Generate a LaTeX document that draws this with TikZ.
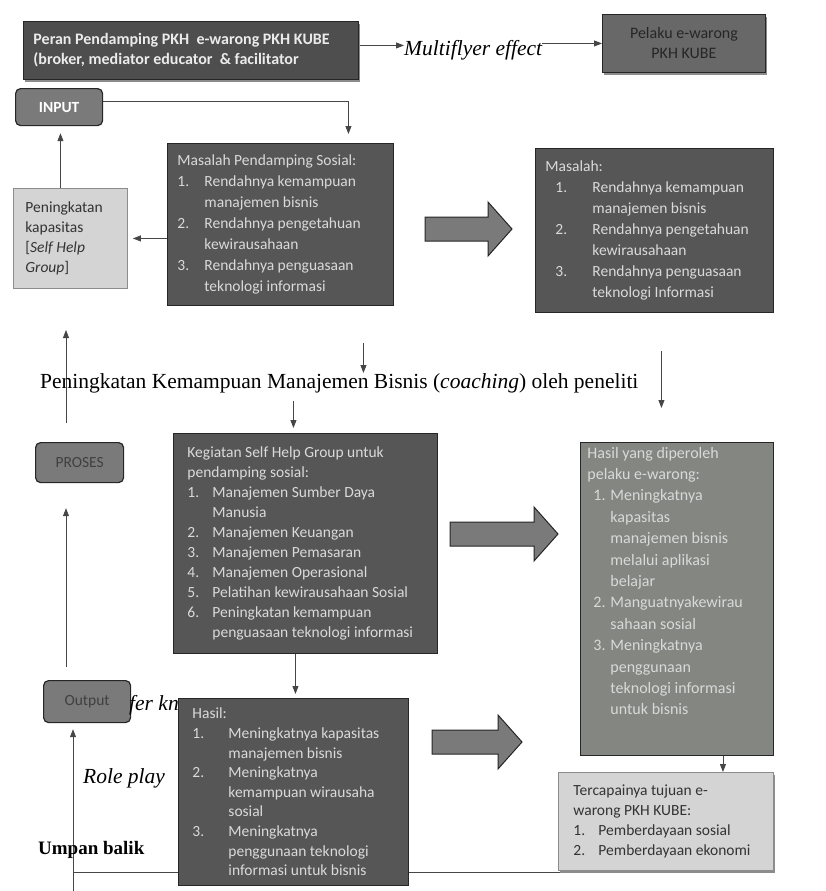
\documentclass[tikz,border=0pt]{standalone}
\usepackage{fontspec}
\setmainfont{Carlito}
\newfontfamily\serifont{Liberation Serif}
\usetikzlibrary{arrows.meta,shadows,backgrounds}

\definecolor{boxdark}{RGB}{86,86,86}
\definecolor{boxtext}{RGB}{218,218,218}
\definecolor{peranfill}{RGB}{78,78,78}
\definecolor{pelakufill}{RGB}{104,104,104}
\definecolor{hasilfill}{RGB}{132,134,130}
\definecolor{tagfill}{RGB}{122,122,122}
\definecolor{lightfill}{RGB}{212,212,212}
\definecolor{linegray}{RGB}{70,70,70}

\newcommand{\boxsize}{\fontsize{15.5}{21}\selectfont}
\newlength{\nrw}
\newlength{\nro}
\newcommand{\nr}[1]{\hspace*{\nro}\makebox[\nrw][l]{#1.}}
\newcommand{\nx}{\hspace*{\dimexpr\nro+\nrw\relax}}
\newcommand{\fatarrow}[3]{%
  \draw[fatarrow] (#1,#3-12) -- (#2-24,#3-12) -- (#2-24,#3-27) -- (#2,#3)
    -- (#2-24,#3+27) -- (#2-24,#3+12) -- (#1,#3+12) -- cycle;}

\begin{document}
\begin{tikzpicture}[x=1pt, y=-1pt,
    panel/.style={draw=black!85, line width=0.9pt, font=\boxsize, align=flush left,
      anchor=north west, inner xsep=10pt, inner ysep=0pt},
    darkbox/.style={panel, fill=boxdark, text=boxtext},
    lightbox/.style={panel, draw=black!45, fill=lightfill, text=black!80},
    tag/.style={draw=black!85, line width=1.2pt, rounded corners=5pt, fill=tagfill,
      anchor=north west, inner sep=0pt, font=\fontsize{15.5}{18}\selectfont},
    serif/.style={inner sep=0pt, font=\serifont\fontsize{21.5}{24}\selectfont},
    arr/.style={draw=linegray, line width=0.8pt, -{Triangle[length=8pt,width=6pt]}},
    link/.style={draw=linegray, line width=0.8pt},
    fatarrow/.style={draw=black!85, line width=1pt, fill=black!52},
    boxshadow/.style={drop shadow={shadow xshift=1.5pt, shadow yshift=-3pt, fill=black!45, opacity=1}}
  ]
\useasboundingbox (0,0) rectangle (825,891);

% top row
\node[panel, boxshadow, fill=peranfill, text=white!92!black,
  font=\bfseries\fontsize{16}{20}\selectfont, text width=315pt, minimum height=58pt]
  (peran) at (23,21)
  {Peran Pendamping PKH\ \ e-warong PKH KUBE\\(broker, mediator educator\ \ \& facilitator};
\node[serif, anchor=west] (multi) at (404,50) {\itshape Multiflyer effect};
\node[panel, boxshadow, fill=pelakufill, text=black!85, align=flush center,
  font=\fontsize{16}{20}\selectfont, text width=143pt, minimum height=58pt]
  (pelaku) at (602,14) {Pelaku e-warong\\PKH KUBE};
\node[tag, text=white, font=\bfseries\fontsize{15.5}{18}\selectfont,
  minimum width=87pt, minimum height=37pt] (input) at (15,88) {INPUT};

% problems
\node[darkbox, text width=206pt, minimum height=162pt] (masPS) at (167,143)
  {\setlength{\nrw}{27pt}Masalah Pendamping Sosial:\\
   \nr{1}Rendahnya kemampuan\\\nx manajemen bisnis\\
   \nr{2}Rendahnya pengetahuan\\\nx kewirausahaan\\
   \nr{3}Rendahnya penguasaan\\\nx teknologi informasi};
\node[lightbox, text width=90pt, inner xsep=12pt, minimum height=100pt,
  font=\fontsize{15.5}{20}\selectfont] (penkap) at (13,188)
  {Peningkatan\\kapasitas\\{[}\textit{Self Help}\\\textit{Group}]};
\node[darkbox, text width=218pt, minimum height=164pt] (masalah) at (535,148)
  {\setlength{\nro}{10pt}\setlength{\nrw}{37pt}Masalah:\\
   \nr{1}Rendahnya kemampuan\\\nx manajemen bisnis\\
   \nr{2}Rendahnya pengetahuan\\\nx kewirausahaan\\
   \nr{3}Rendahnya penguasaan\\\nx teknologi Informasi};
\fatarrow{425}{512}{229}

% coaching
\node[serif, anchor=west] (coach) at (40,383)
  {Peningkatan Kemampuan Manajemen Bisnis (\textit{coaching}) oleh peneliti};

% process
\node[tag, text=black!75, minimum width=88pt, minimum height=40pt] (proses) at (35,442) {PROSES};
\node[darkbox, text width=236pt, inner xsep=14pt, minimum height=220pt,
  font=\fontsize{15.5}{20}\selectfont] (keg) at (173,433)
  {\setlength{\nrw}{25pt}Kegiatan Self Help Group untuk\\pendamping sosial:\\
   \nr{1}Manajemen Sumber Daya\\\nx Manusia\\
   \nr{2}Manajemen Keuangan\\
   \nr{3}Manajemen Pemasaran\\
   \nr{4}Manajemen Operasional\\
   \nr{5}Pelatihan kewirausahaan Sosial\\
   \nr{6}Peningkatan kemampuan\\\nx penguasaan teknologi informasi};
\node[darkbox, fill=hasilfill, text=black!15, text width=179pt, inner xsep=7pt,
  minimum height=313pt, font=\fontsize{16}{21.4}\selectfont] (hasilR) at (580,442)
  {\setlength{\nro}{6pt}\setlength{\nrw}{17pt}Hasil yang diperoleh\\pelaku e-warong:\\
   \nr{1}Meningkatnya\\\nx kapasitas\\\nx manajemen bisnis\\\nx melalui aplikasi\\\nx belajar\\
   \nr{2}Manguatnyakewirau\\\nx sahaan sosial\\
   \nr{3}Meningkatnya\\\nx penggunaan\\\nx teknologi informasi\\\nx untuk bisnis\par\vspace*{36pt}};
\fatarrow{450}{558}{534}

% output
\node[tag, text=black!75, minimum width=87pt, minimum height=42pt] (output) at (43,680) {Output};
\node[serif, anchor=west] (fer) at (129,705) {\itshape fer kn};
\node[darkbox, text width=202pt, inner xsep=14pt, minimum height=187pt,
  font=\fontsize{15.5}{19.6}\selectfont] (hasilL) at (178,698)
  {\setlength{\nrw}{36pt}Hasil:\\
   \nr{1}Meningkatnya kapasitas\\\nx manajemen bisnis\\
   \nr{2}Meningkatnya\\\nx kemampuan wirausaha\\\nx sosial\\
   \nr{3}Meningkatnya\\\nx penggunaan teknologi\\\nx informasi untuk bisnis};
\fatarrow{432}{522}{742}
\node[serif, anchor=west] (role) at (83,778) {\itshape Role play};
\node[serif, anchor=west, font=\serifont\bfseries\fontsize{19}{22}\selectfont] (umpan) at (38,850) {Umpan balik};
\node[lightbox, boxshadow, text width=185pt, inner xsep=15pt, minimum height=98pt,
  font=\fontsize{15.5}{20}\selectfont] (tercapai) at (558,772)
  {\setlength{\nrw}{25pt}Tercapainya tujuan e-\\warong PKH KUBE:\\
   \nr{1}Pemberdayaan sosial\\\nr{2}Pemberdayaan ekonomi};

\coordinate (upTip) at (66,330);
\coordinate (fbRight) at (733,872);
\coordinate (fbLeft) at (73,872);
\coordinate (fbFoot) at (73,891);

\begin{scope}[on background layer]
\draw[arr] ([yshift=5pt]peran.east) -- ([yshift=5pt]peran.east -| multi.west);
\draw[arr] (pelaku.west -| multi.east) -- (pelaku.west);
\draw[arr, shorten >=9pt] ([yshift=6pt]input.east) -| ([xshift=68pt]masPS.north);
\draw[arr, shorten >=5pt] (masPS.west |- penkap.east) -- (penkap.east);
\draw[arr, shorten >=7pt] ([xshift=-10pt]penkap.north) -- ([xshift=-10pt]penkap.north |- input.south);
\draw[arr, shorten <=19pt] (proses.north -| upTip) -- (upTip);
\draw[arr, shorten <=13pt, shorten >=25pt] (output.north -| upTip) -- (proses.south -| upTip);
\draw[arr, shorten <=37pt] ([xshift=83pt]masPS.south) -- ([xshift=83pt]masPS.south |- coach.north);
\draw[arr, shorten <=8pt, shorten >=5pt] ([xshift=-12pt]keg.north |- coach.south) -- ([xshift=-12pt]keg.north);
\draw[arr, shorten <=38pt, shorten >=34pt] ([xshift=7pt]masalah.south) -- ([xshift=7pt]masalah.south |- hasilR.north);
\draw[arr, shorten >=4pt] ([xshift=-10pt]keg.south) -- ([xshift=-10pt]keg.south |- hasilL.north);
\draw[arr] ([xshift=46pt]hasilR.south) -- ([xshift=46pt]hasilR.south |- tercapai.north);
\draw[link] (tercapai.south -| fbRight) -- (fbRight) -- (fbLeft);
\draw[arr, shorten >=6pt] (fbFoot) -- (output.south -| fbFoot);
\end{scope}
\end{tikzpicture}
\end{document}
